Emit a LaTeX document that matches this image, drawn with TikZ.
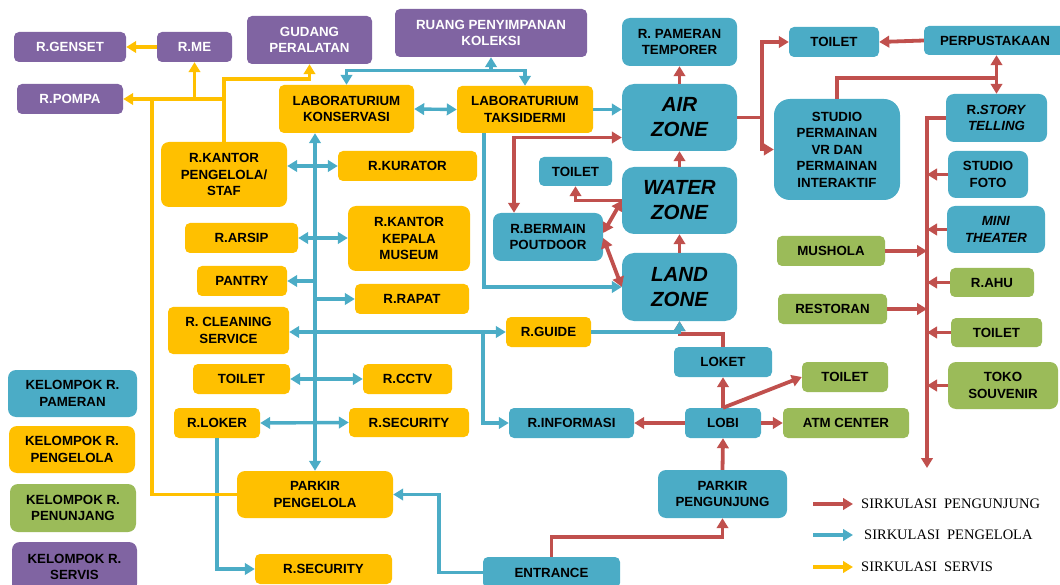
\documentclass[tikz,border=0pt]{standalone}
\usepackage{fontspec}
\usetikzlibrary{arrows.meta,calc}
\newfontfamily\arialfam{Liberation Sans}
\newfontfamily\serifface{Liberation Serif}
\definecolor{cPur}{HTML}{8064A2}
\definecolor{cBlu}{HTML}{4BACC6}
\definecolor{cYel}{HTML}{FFC000}
\definecolor{cGrn}{HTML}{9BBB59}
\definecolor{cRed}{HTML}{C0504D}
\newcommand\bfont{\arialfam\bfseries\fontsize{13.3}{16.5}\selectfont}
\newcommand\zfont{\arialfam\bfseries\itshape\fontsize{20.5}{25}\selectfont}
\newcommand\lgfont{\serifface\fontsize{14.5}{16}\selectfont}
% box from corner (x1,y1) to (x2,y2), in pixels from the top left
\newcommand\bx[7]{\node[#6, minimum width={(#4-#2)*1pt}, minimum height={(#5-#3)*1pt}]
  (#1) at ({(#2+#4)/2},{(#3+#5)/2}) {#7};}
\tikzset{
  box/.style={rounded corners=5pt, inner sep=0pt, align=center, font=\bfont, text=black},
  pur/.style={box, fill=cPur, text=white},
  blu/.style={box, fill=cBlu},
  yel/.style={box, fill=cYel},
  grn/.style={box, fill=cGrn},
  zone/.style={box, fill=cBlu, rounded corners=12pt, font=\zfont},
  >={Triangle[length=10pt,width=11.5pt]},
  vis/.style={draw=cRed, line width=3.8pt},
  mgr/.style={draw=cBlu, line width=3.4pt},
  srv/.style={draw=cYel, line width=3.8pt},
}
\begin{document}
\begin{tikzpicture}[x=1pt,y=-1pt]
\useasboundingbox (0,0) rectangle (1060,585);

% service rooms
\bx{genset}{14}{32}{126}{62}{pur}{R.GENSET}
\bx{rme}{157}{32}{232}{62}{pur}{R.ME}
\bx{gudang}{247}{16}{372}{64}{pur}{GUDANG\\PERALATAN}
\bx{pompa}{17}{84}{123}{114}{pur}{R.POMPA}
\bx{koleksi}{395}{9}{587}{57}{pur}{RUANG PENYIMPANAN\\KOLEKSI}

% management rooms
\bx{konservasi}{279}{85}{414}{133}{yel}{LABORATURIUM\\KONSERVASI}
\bx{taksidermi}{457}{86}{593}{133}{yel}{LABORATURIUM\\TAKSIDERMI}
\bx{kantor}{161}{142}{287}{207}{yel,rounded corners=8pt}{R.KANTOR\\PENGELOLA/\\STAF}
\bx{kurator}{338}{151}{477}{181}{yel}{R.KURATOR}
\bx{kepala}{348}{206}{470}{271}{yel,rounded corners=8pt}{R.KANTOR\\KEPALA\\MUSEUM}
\bx{arsip}{185}{223}{298}{253}{yel}{R.ARSIP}
\bx{pantry}{197}{266}{287}{296}{yel}{PANTRY}
\bx{rapat}{355}{284}{469}{314}{yel}{R.RAPAT}
\bx{cleaning}{168}{307}{289}{354}{yel}{R. CLEANING\\SERVICE}
\bx{guide}{506}{317}{591}{347}{yel}{R.GUIDE}
\bx{toilety}{193}{364}{290}{394}{yel}{TOILET}
\bx{cctv}{363}{364}{452}{394}{yel}{R.CCTV}
\bx{loker}{174}{408}{260}{438}{yel}{R.LOKER}
\bx{securitya}{349}{408}{469}{437}{yel}{R.SECURITY}
\bx{parkirp}{237}{471}{393}{518}{yel,rounded corners=8pt}{PARKIR\\PENGELOLA}
\bx{securityb}{255}{554}{392}{584}{yel}{R.SECURITY}

% exhibition rooms
\bx{temporer}{622}{18}{737}{66}{blu,rounded corners=8pt}{R. PAMERAN\\TEMPORER}
\bx{air}{622}{84}{737}{151}{zone}{AIR\\ZONE}
\bx{water}{622}{167}{737}{234}{zone}{WATER\\ZONE}
\bx{land}{622}{253}{737}{321}{zone}{LAND\\ZONE}
\bx{toilett}{789}{27}{879}{57}{blu}{TOILET}
\bx{perpus}{924}{26}{1066}{55}{blu}{PERPUSTAKAAN}
\bx{studio}{774}{99}{900}{200}{blu,rounded corners=16pt}{STUDIO\\PERMAINAN\\VR DAN\\PERMAINAN\\INTERAKTIF}
\bx{story}{946}{94}{1047}{142}{blu,rounded corners=8pt}{R.\textit{STORY}\\\textit{TELLING}}
\bx{foto}{948}{151}{1028}{198}{blu,rounded corners=8pt}{STUDIO\\FOTO}
\bx{mini}{947}{206}{1045}{253}{blu,rounded corners=8pt}{\textit{MINI}\\\textit{THEATER}}
\bx{toiletb}{539}{157}{612}{186}{blu}{TOILET}
\bx{bermain}{493}{213}{603}{261}{blu,rounded corners=8pt}{R.BERMAIN\\POUTDOOR}
\bx{loket}{674}{347}{772}{377}{blu}{LOKET}
\bx{informasi}{509}{408}{634}{438}{blu}{R.INFORMASI}
\bx{lobi}{685}{408}{761}{438}{blu}{LOBI}
\bx{parkirv}{658}{470}{787}{518}{blu,rounded corners=8pt}{PARKIR\\PENGUNJUNG}
\bx{entrance}{483}{557}{620}{588}{blu}{ENTRANCE}

% supporting rooms
\bx{mushola}{777}{236}{885}{266}{grn}{MUSHOLA}
\bx{restoran}{778}{294}{887}{324}{grn}{RESTORAN}
\bx{ahu}{950}{268}{1034}{297}{grn}{R.AHU}
\bx{toiletg}{951}{318}{1042}{347}{grn}{TOILET}
\bx{toko}{948}{362}{1058}{409}{grn,rounded corners=8pt}{TOKO\\SOUVENIR}
\bx{toiletc}{802}{362}{888}{392}{grn}{TOILET}
\bx{atm}{783}{408}{909}{438}{grn}{ATM CENTER}

% colour key
\bx{lgpam}{8}{370}{137}{417}{blu,rounded corners=8pt}{KELOMPOK R.\\PAMERAN}
\bx{lgpeng}{9}{426}{135}{473}{yel,rounded corners=8pt}{KELOMPOK R.\\PENGELOLA}
\bx{lgpen}{10}{484}{136}{532}{grn,rounded corners=8pt}{KELOMPOK R.\\PENUNJANG}
\bx{lgser}{12}{542}{137}{592}{box,fill=cPur,rounded corners=8pt}{KELOMPOK R.\\SERVIS}

% ---------- visitor circulation ----------
\draw[vis,->] (entrance.north) -- ++(0,-20) -| (parkirv.south);
\draw[vis,->] (parkirv.north) -- (lobi.south);
\draw[vis,->] (lobi.west) -- (informasi.east);
\draw[vis,->] (lobi.east) -- (atm.west);
\draw[vis,->] (lobi.north) -- (loket.south);
\draw[vis,->] (lobi.north) -- (toiletc.west);
\draw[vis,->] (loket.north) -- ++(0,-13) -| (land.south);
\draw[vis,->] (land.north) -- (water.south);
\draw[vis,->] (water.north) -- (air.south);
\draw[vis,->] (air.north) -- (temporer.south);
\draw[vis,->] (water.west) -| (toiletb.south);
\draw[vis,<->] ([yshift=4pt]bermain.east) -- (water.west);
\draw[vis,<->] ([yshift=-1pt]bermain.east) -- (land.west);
\draw[vis,<->] ([yshift=-20pt]air.west) -| ([xshift=-34pt]bermain.north);
\draw[vis,->] (air.east) -- ++(25,0) |- (toilett.west);
\draw[vis,->] (air.east) -- ++(25,0) |- (studio.west);
\draw[vis,->] (perpus.west) -- (toilett.east);
\coordinate (sj) at (996.5,78);
\draw[vis] (studio.north) |- (sj);
\draw[vis,<->] (story.north |- perpus.south) -- (story.north);
\coordinate (rv) at (927,468);
\draw[vis,->] (story.west) -| (rv);
\draw[vis,->] (foto.west) -- (foto.west -| rv);
\draw[vis,->] (mini.west) -- (mini.west -| rv);
\draw[vis,->] (mushola.east) -- (mushola.east -| rv);
\draw[vis,->] (restoran.east) -- (restoran.east -| rv);
\draw[vis,->] (ahu.west) -- (ahu.west -| rv);
\draw[vis,->] (toiletg.west) -- (toiletg.west -| rv);
\draw[vis,->] (toko.west) -- (toko.west -| rv);

% ---------- management circulation ----------
\draw[mgr,<->] (konservasi.south -| parkirp.north) -- (parkirp.north);
\draw[mgr,<->] (kantor.east |- kurator.west) -- (kurator.west);
\draw[mgr,<->] (arsip.east) -- (kepala.west |- arsip.east);
\draw[mgr,->] (parkirp.north |- pantry.east) -- (pantry.east);
\draw[mgr,->] (parkirp.north |- rapat.west) -- (rapat.west);
\draw[mgr,<->] (cleaning.east |- guide.west) -- (guide.west);
\draw[mgr,->] ([xshift=-23pt]guide.west) |- (informasi.west);
\draw[mgr,<->] (toilety.east) -- (cctv.west);
\draw[mgr,<->] (loker.east) -- (securitya.west);
\draw[mgr,->] (loker.south) |- (securityb.west);
\draw[mgr,<->] (konservasi.east) -- (taksidermi.west);
\coordinate (kt) at ([yshift=15pt]taksidermi.north);
\draw[mgr,<->] (konservasi.north) |- (kt) -- (taksidermi.north);
\draw[mgr,->] (koleksi.south |- kt) -- (koleksi.south);
\draw[mgr,->] (taksidermi.east) -- (air.west |- taksidermi.east);
\draw[mgr,->] ([xshift=-41pt]taksidermi.south) |- (land.west);
\draw[mgr,->] (guide.east) -| (land.south);
\draw[mgr,->] (entrance.west) -- ++(-44,0) |- (parkirp.east);

% ---------- service circulation ----------
\draw[srv,->] (rme.west) -- (genset.east);
\draw[srv,->] (kantor.north) |- ([yshift=-15pt]gudang.south) -- (gudang.south);
\draw[srv,->] (kantor.north |- pompa.east) -- (pompa.east);
\draw[srv,->] (rme.south |- pompa.east) -- (rme.south);
\draw[srv] (parkirp.west) -| ([xshift=29pt]pompa.east);

% ---------- line key ----------
\coordinate (k1a) at (813,504); \coordinate (k1b) at (853,504);
\coordinate (k2a) at (813,535); \coordinate (k2b) at (853,535);
\coordinate (k3a) at (813,567); \coordinate (k3b) at (853,567);
\draw[vis,->] (k1a) -- (k1b);
\draw[mgr,->] (k2a) -- (k2b);
\draw[srv,->] (k3a) -- (k3b);
\node[anchor=west, inner sep=0pt, font=\lgfont] (t1) at (861,504) {SIRKULASI\ \ PENGUNJUNG};
\node[anchor=west, inner sep=0pt, font=\lgfont] (t2) at (864,535) {SIRKULASI\ \ PENGELOLA};
\node[anchor=west, inner sep=0pt, font=\lgfont] (t3) at (861,567) {SIRKULASI\ \ SERVIS};
\end{tikzpicture}
\end{document}
